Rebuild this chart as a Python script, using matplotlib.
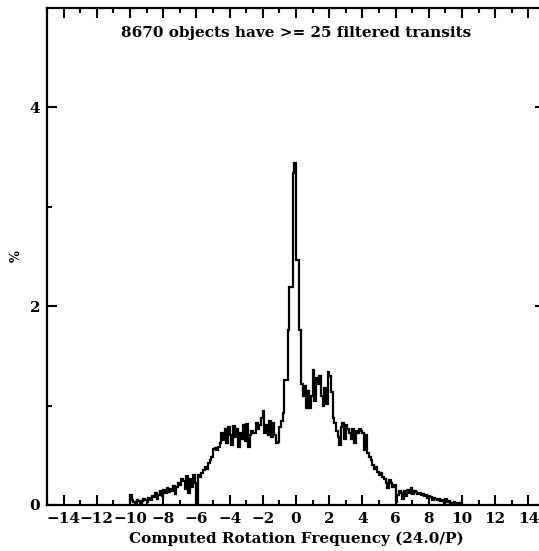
import numpy as np
import matplotlib
matplotlib.use("Agg")
import matplotlib.pyplot as plt
from matplotlib.ticker import MultipleLocator

# histogram of computed rotation frequency, bins of 0.1 from -10 to 10 (percent)
bin_start = -10.0
bin_width = 0.1
percent = [
    0.10, 0.05, 0.03, 0.02, 0.05, 0.04, 0.02, 0.04, 0.06, 0.05,
    0.03, 0.07, 0.05, 0.09, 0.08, 0.12, 0.06, 0.10, 0.14, 0.09,
    0.15, 0.12, 0.17, 0.13, 0.16, 0.14, 0.19, 0.11, 0.18, 0.22,
    0.20, 0.26, 0.24, 0.16, 0.29, 0.12, 0.26, 0.18, 0.30, 0.22,
    0.02, 0.30, 0.28, 0.32, 0.35, 0.38, 0.36, 0.42, 0.45, 0.48,
    0.56, 0.57, 0.55, 0.58, 0.62, 0.72, 0.65, 0.76, 0.62, 0.78,
    0.70, 0.60, 0.79, 0.68, 0.76, 0.58, 0.72, 0.66, 0.80, 0.64,
    0.81, 0.58, 0.70, 0.74, 0.72, 0.72, 0.82, 0.76, 0.80, 0.88,
    0.95, 0.72, 0.80, 0.70, 0.85, 0.68, 0.82, 0.70, 0.62, 0.63,
    0.78, 0.85, 0.93, 1.26, 1.26, 1.76, 2.19, 2.19, 3.34, 3.44,
    2.46, 2.46, 1.76, 1.22, 1.10, 1.20, 0.98, 1.15, 0.98, 1.10,
    1.36, 1.05, 1.28, 1.22, 1.30, 1.10, 1.00, 1.18, 1.02, 1.34,
    1.30, 1.14, 0.88, 0.82, 0.74, 0.68, 0.60, 0.78, 0.82, 0.66,
    0.80, 0.76, 0.72, 0.66, 0.76, 0.62, 0.74, 0.72, 0.76, 0.74,
    0.72, 0.55, 0.70, 0.52, 0.48, 0.45, 0.40, 0.36, 0.38, 0.33,
    0.30, 0.32, 0.28, 0.26, 0.22, 0.17, 0.25, 0.22, 0.18, 0.20,
    0.03, 0.10, 0.14, 0.12, 0.06, 0.14, 0.09, 0.15, 0.12, 0.17,
    0.11, 0.14, 0.13, 0.11, 0.12, 0.10, 0.11, 0.09, 0.10, 0.07,
    0.09, 0.08, 0.05, 0.07, 0.06, 0.05, 0.06, 0.04, 0.05, 0.02,
    0.06, 0.03, 0.04, 0.02, 0.02, 0.03, 0.01, 0.02, 0.01, 0.02,
]
title_text = "8670 objects have >= 25 filtered transits"
x_label = "Computed Rotation Frequency (24.0/P)"
y_label = "%"

plt.rcParams['font.family'] = ['DejaVu Serif']
plt.rcParams['font.weight'] = 'bold'

edges = bin_start + bin_width * np.arange(len(percent) + 1)
vals = np.asarray(percent)

fig = plt.figure(figsize=(5.39, 5.51), dpi=100)
ax = fig.add_axes([47 / 539, 46 / 551, 498 / 539, 497 / 551])

ax.stairs(vals, edges, color='black', linewidth=1.6)

ax.set_xlim(-15, 15)
ax.set_ylim(0, 5)
ax.xaxis.set_major_locator(MultipleLocator(2))
ax.xaxis.set_minor_locator(MultipleLocator(1))
ax.set_yticks([0, 2, 4])
ax.set_yticks([1, 3], minor=True)
ax.set_xticks(np.arange(-14, 15, 2))

ax.tick_params(which='both', direction='in', top=True, right=True, width=1.5)
ax.tick_params(which='major', length=7.5, labelsize=11, pad=5)
ax.tick_params(which='minor', length=3.8)
for s in ax.spines.values():
    s.set_linewidth(1.6)

ax.text(0.5, 0.95, title_text, transform=ax.transAxes, ha='center', va='center',
        fontsize=11, fontweight='bold')
ax.set_xlabel(x_label, fontsize=11, fontweight='bold', labelpad=4)
ax.set_ylabel(y_label, fontsize=9, fontweight='bold')
ax.yaxis.set_label_coords(-0.048, 0.5)

fig.savefig("out.png", dpi=100)
